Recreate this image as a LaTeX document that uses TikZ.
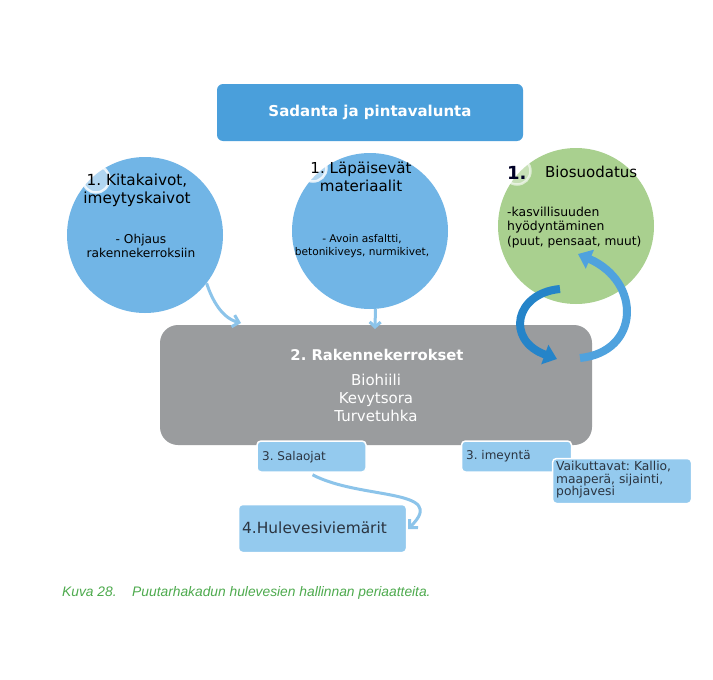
\documentclass[tikz,border=0pt]{standalone}
\usepackage{fontspec}
\setmainfont{DejaVu Sans}
\newfontfamily\capfont{Liberation Sans}
\usetikzlibrary{arrows.meta}
\definecolor{topblue}{HTML}{4A9FDB}
\definecolor{circblue}{HTML}{71B5E6}
\definecolor{circgreen}{HTML}{A9D08F}
\definecolor{boxblue}{HTML}{94CAEE}
\definecolor{rkgray}{HTML}{9A9C9E}
\definecolor{arrdark}{HTML}{2584C9}
\definecolor{arrlight}{HTML}{4FA2DE}
\definecolor{linkblue}{HTML}{8CC4EA}
\definecolor{capgreen}{HTML}{4DAA4D}
\definecolor{txtdark}{HTML}{2B3440}
\tikzset{
  bigcirc/.style={circle, minimum size=156pt, inner sep=0pt},
  dotcirc/.style={circle, minimum size=27pt, inner sep=0pt, draw=white, draw opacity=0.8, line width=2.5pt, fill=white, fill opacity=0.45},
  smallbox/.style={rounded corners=4pt, fill=boxblue, draw=white, line width=1.5pt, inner sep=0pt},
  linkarrow/.style={draw=linkblue, line width=3pt, -{Straight Barb[length=6pt,width=12pt]}},
  ribbon/.style={line width=8pt, -{Triangle[width=20pt,length=13pt]}},
  ctext/.style={text=black, align=center, inner sep=0pt},
  btext/.style={text=txtdark, align=left, inner sep=0pt, anchor=west}
}
\frenchspacing
\begin{document}
\frenchspacing
\begin{tikzpicture}[x=1pt,y=-1pt]
\useasboundingbox (0,0) rectangle (713,680);
\fill[white] (0,0) rectangle (713,680);

% top box
\node[fill=topblue, rounded corners=6pt, minimum width=306pt, minimum height=57pt, inner sep=0pt,
      text=white, font=\fontsize{15}{18}\selectfont\bfseries] (top) at (370,112.5) {Sadanta ja pintavalunta};

% circles
\node[bigcirc, fill=circblue] (c1) at (145,235) {};
\node[bigcirc, fill=circblue] (c2) at (370,231) {};
\node[bigcirc, fill=circgreen] (c3) at (576,226) {};
\node[dotcirc] (d1) at (96,179) {};
\node[dotcirc] (d2) at (313,168) {};
\node[dotcirc, draw opacity=0.6, fill opacity=0.35] (d3) at (517,171) {};

\node[ctext, font=\fontsize{15.3}{18}\selectfont] (t1) at (137,190) {1. Kitakaivot,\\imeytyskaivot};
\node[ctext, font=\fontsize{12.2}{13.5}\selectfont] (s1) at (141,246) {- Ohjaus\\rakennekerroksiin};
\node[ctext, font=\fontsize{15.1}{18}\selectfont] (t2) at (361,177) {1. Läpäisevät\\materiaalit};
\node[ctext, font=\fontsize{10.6}{12.5}\selectfont] (s2) at (362,246) {- Avoin asfaltti,\\betonikiveys, nurmikivet,};
\node[inner sep=0pt, anchor=base west, text=black!85!blue, font=\fontsize{18}{20}\selectfont\bfseries] (n3) at (507,179) {1.};
\node[inner sep=0pt, anchor=base west, font=\fontsize{15}{18}\selectfont] (t3) at (545,177) {Biosuodatus};
\node[inner sep=0pt, anchor=north west, align=left, font=\fontsize{12.4}{13.5}\selectfont] (s3) at (507,207) {-kasvillisuuden\\hyödyntäminen};
\node[inner sep=0pt, anchor=north west, font=\fontsize{12.2}{13.5}\selectfont] (s3b) at (507,236) {(puut, pensaat, muut)};

% gray layer box
\node[fill=rkgray, rounded corners=18pt, minimum width=432pt, minimum height=120pt, inner sep=0pt] (rk) at (376,385) {};
\node[inner sep=0pt, text=white, font=\fontsize{14.8}{17}\selectfont\bfseries] (rkt) at (377,355) {2. Rakennekerrokset};
\node[inner sep=0pt, text=white, align=center, font=\fontsize{15}{18}\selectfont] (rkl) at (376,398) {Biohiili\\Kevytsora\\Turvetuhka};

% small boxes
\node[smallbox, minimum width=109pt, minimum height=31pt] (sal) at (311.5,456.5) {};
\node[btext, font=\fontsize{12}{14}\selectfont] at (262,457) {3. Salaojat};
\node[smallbox, minimum width=110pt, minimum height=31pt] (ime) at (516.5,456.5) {};
\node[btext, font=\fontsize{12}{14}\selectfont] at (466,456) {3. imeyntä};
\node[smallbox, minimum width=139pt, minimum height=45pt] (vai) at (622,481) {};
\node[btext, anchor=north west, font=\fontsize{12.3}{12.5}\selectfont] at (556,461) {Vaikuttavat: Kallio,\\maaperä, sijainti,\\pohjavesi};
\node[smallbox, minimum width=168pt, minimum height=48pt] (hul) at (322.5,528.5) {};
\node[btext, font=\fontsize{15.4}{18}\selectfont] at (242,528) {4.Hulevesiviemärit};

% connectors
\coordinate (a1end) at (241,323);
\coordinate (a2end) at (375,329);
\draw[linkarrow] (c1.-38) .. controls (212,300) and (222,318) .. (a1end);
\draw[draw=linkblue, line width=3pt, -{Straight Barb[length=5pt,width=11pt]}] (c2.-86) -- (a2end);
\coordinate (r1s) at (560,289);
\coordinate (r1e) at (557,359);
\coordinate (r2s) at (580,358);
\coordinate (r2e) at (578,254);
\draw[ribbon, arrdark] (r1s) .. controls (515,293) and (505,340) .. (r1e);
\draw[ribbon, arrlight] (r2s) .. controls (640,352) and (642,282) .. (r2e);
\coordinate (hulin) at (408,529);
\draw[linkarrow] (sal.south) ++(1,2) .. controls (360,500) and (450,488) .. (hulin);

% caption
\node[anchor=base west, inner sep=0pt, text=capgreen, font=\capfont\itshape\fontsize{13.8}{16}\selectfont] (cap1) at (62,596) {Kuva 28.};
\node[anchor=base west, inner sep=0pt, text=capgreen, font=\capfont\itshape\fontsize{13.8}{16}\selectfont] (cap2) at (132,596) {Puutarhakadun hulevesien hallinnan periaatteita.};
\end{tikzpicture}
\end{document}
